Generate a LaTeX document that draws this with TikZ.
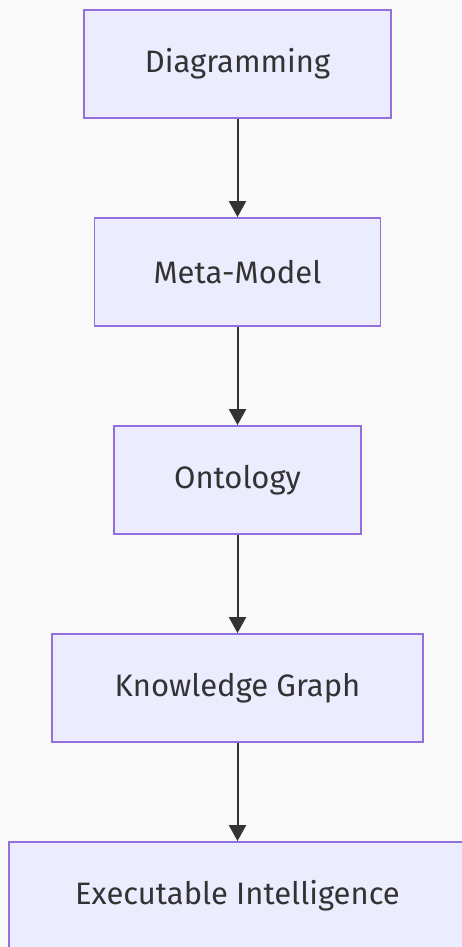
\documentclass[tikz,border=0pt]{standalone}
\usepackage{fontspec}
\setmainfont{Fira Sans}
\usetikzlibrary{arrows.meta}
\definecolor{bg}{HTML}{F9F9F9}
\definecolor{nodefill}{HTML}{ECECFF}
\definecolor{nodeline}{HTML}{9370DB}
\definecolor{ink}{HTML}{333333}
\tikzset{
  flowbox/.style={draw=nodeline, fill=nodefill, line width=1.8pt, minimum height=108pt, inner sep=0pt, text=ink, font=\fontsize{31}{36}\selectfont},
  flowarrow/.style={draw=ink, line width=2pt, -{Triangle[length=16pt,width=17pt]}}
}
\begin{document}
\begin{tikzpicture}[x=1pt,y=-1pt]
\fill[bg] (0,0) rectangle (462,947);
\useasboundingbox (0,0) rectangle (462,947);
\node[flowbox, minimum width=307pt] (a) at (237.5,64) {Diagramming};
\node[flowbox, minimum width=286pt] (b) at (237.5,272) {Meta-Model};
\node[flowbox, minimum width=247pt] (c) at (237.5,480) {Ontology};
\node[flowbox, minimum width=371pt] (d) at (237.5,688) {Knowledge Graph};
\node[flowbox, minimum width=457pt] (e) at (237.5,896) {Executable Intelligence};
\draw[flowarrow] (a) -- (b);
\draw[flowarrow] (b) -- (c);
\draw[flowarrow] (c) -- (d);
\draw[flowarrow] (d) -- (e);
\end{tikzpicture}
\end{document}
